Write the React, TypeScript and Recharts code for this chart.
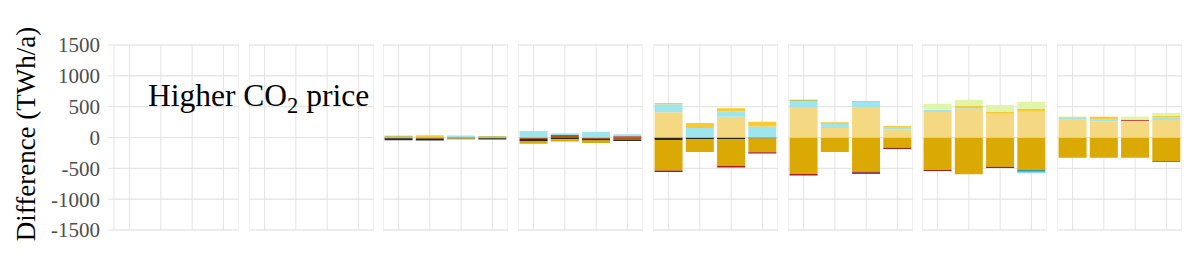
import { BarChart, Bar, XAxis, YAxis, CartesianGrid } from 'recharts'

const FONT = '"Liberation Serif", "Times New Roman", Times, serif'

// four scenarios per panel, eight panels
const scenarios = ['A', 'B', 'C', 'D']
const majorTicks = [-1500, -1000, -500, 0, 500, 1000, 1500]
const minorTicks = [-1500, -1250, -1000, -750, -500, -250, 0, 250, 500, 750, 1000, 1250, 1500]

// values in TWh/a, 4 per panel (panels 1-2 are empty)
const brown = [0, 0, 0, 0, 0, 0, 0, 0, -13, -15, 0, -12, -25, 40, -25, -35, 0, 0, 0, 0, 0, 0, 0, 0, 0, 0, 0, 0, 0, 0, 0, 0]
const black = [0, 0, 0, 0, 0, 0, 0, 0, -32, -32, -16, -20, -30, -30, -25, -20, -40, -25, -24, -16, 0, 0, 0, 0, 0, 0, 0, 0, 0, 0, 0, 0]
const gold = [0, 0, 0, 0, 0, 0, 0, 0, 0, 0, -18, 0, -45, -35, -40, 0, -496, -210, -440, -222, -591, -235, -554, -165, -527, -596, -473, -527, -327, -327, -327, -381]
const pale = [0, 0, 0, 0, 0, 0, 0, 0, 0, 0, 0, 0, 0, 0, 0, 0, 408, 0, 335, 0, 494, 154, 483, 133, 413, 462, 381, 418, 288, 262, 271, 283]
const red = [0, 0, 0, 0, 0, 0, 0, 0, 0, 0, 0, 0, 0, 0, 0, 22, -22, 0, -22, -20, -27, 0, -16, -20, -16, 0, -22, 0, 0, 0, 16, 0]
const navy = [0, 0, 0, 0, 0, 0, 0, 0, 0, 0, 0, 0, 0, 0, 0, 0, 0, 0, 0, 0, 0, 0, -16, 0, 0, 0, 0, 0, 0, 0, 0, 0]
const teal = [0, 0, 0, 0, 0, 0, 0, 0, 0, 0, 0, 0, 0, 0, 0, 0, 0, 0, 0, 0, 0, 0, 0, 0, 0, 0, 0, -22, 0, 0, 0, -16]
const blue = [0, 0, 0, 0, 0, 0, 0, 0, 0, 0, 0, 0, 0, 0, 0, 0, 0, 0, 0, 0, 0, 0, 0, 0, 0, 0, 0, -20, 0, 0, 0, 0]
const cyan = [0, 0, 0, 0, 0, 0, 0, 0, 0, 0, 33, 0, 105, 28, 95, 30, 130, 155, 86, 178, 102, 65, 92, 37, 37, 11, 16, -16, 39, 32, 0, 44]
const yellow = [0, 0, 0, 0, 0, 0, 0, 0, 13, 35, 0, 8, 0, 0, 0, 0, 22, 80, 54, 76, 0, 27, 16, 16, 0, 37, 16, 44, 10, 42, 0, 21]
const green = [0, 0, 0, 0, 0, 0, 0, 0, 0, 0, 0, 0, 0, 0, 0, 0, 0, 0, 0, 0, 0, 0, 0, 0, 97, 102, 113, 118, 0, 0, 54, 49]
const olive = [0, 0, 0, 0, 0, 0, 0, 0, 15, 0, 0, 12, 0, 0, 0, 0, 0, 0, 0, 0, 16, 0, 0, 0, 0, 0, 0, 0, 0, 0, 0, 0]

// stacking order: first one sits next to zero
const series = [
  { key: 'brown', values: brown, color: '#B4560A' },
  { key: 'black', values: black, color: '#2A2A2A' },
  { key: 'gold', values: gold, color: '#DBA903' },
  { key: 'pale', values: pale, color: '#F4D882' },
  { key: 'red', values: red, color: '#A81C1C' },
  { key: 'navy', values: navy, color: '#2C1C5C' },
  { key: 'teal', values: teal, color: '#2A9DA8' },
  { key: 'blue', values: blue, color: '#3D9AE0' },
  { key: 'cyan', values: cyan, color: '#9EE5EE' },
  { key: 'yellow', values: yellow, color: '#F9CB30' },
  { key: 'green', values: green, color: '#E0F5A8' },
  { key: 'olive', values: olive, color: '#A7B63C' },
]

const panelLefts = [0, 241, 375, 510, 645, 780, 914, 1049]

const Panel = ({ index }: { index: number }) => {
  const first = index === 0
  const rows = scenarios.map((s, i) => {
    const row: any = { name: s }
    series.forEach((k) => {
      row[k.key] = k.values[index * 4 + i]
    })
    return row
  })

  return (
    <div style={{ position: 'absolute', left: panelLefts[index], top: 0 }}>
      <BarChart
        width={first ? 231 : 125}
        height={241}
        data={rows}
        margin={{ top: 37, right: 0, bottom: 19, left: 0 }}
        stackOffset="sign"
        barCategoryGap="5%"
        style={{ fontFamily: FONT }}
      >
        <XAxis dataKey="name" hide />
        <YAxis yAxisId="minor" hide domain={[-1500, 1500]} ticks={minorTicks} allowDataOverflow />
        <YAxis
          yAxisId="major"
          hide={!first}
          width={106}
          domain={[-1500, 1500]}
          ticks={majorTicks}
          interval={0}
          allowDataOverflow
          axisLine={false}
          tickLine={{ stroke: '#E3E3E3' }}
          tickSize={6}
          tickMargin={8}
          tick={{ fill: '#4D4D4D', fontSize: 21, fontFamily: FONT }}
        />
        <CartesianGrid yAxisId="minor" vertical={false} stroke="#EFEFEF" />
        <CartesianGrid yAxisId="major" stroke="#E3E3E3" />
        {series.map((s) => (
          <Bar
            key={s.key}
            yAxisId="major"
            dataKey={s.key}
            stackId="a"
            fill={s.color}
            isAnimationActive={false}
          />
        ))}
      </BarChart>
    </div>
  )
}

export default function App() {
  return (
    <div style={{ position: 'relative', width: 1180, height: 241, fontFamily: FONT }}>
      {panelLefts.map((_, i) => (
        <Panel key={i} index={i} />
      ))}
      <svg
        width={1180}
        height={241}
        style={{ position: 'absolute', left: 0, top: 0, pointerEvents: 'none' }}
      >
        <text
          x={27}
          y={126}
          transform="rotate(-90 27 126)"
          textAnchor="middle"
          fill="#000"
          style={{ fontFamily: FONT, fontSize: 27 }}
        >
          Difference (TWh/a)
        </text>
        <text x={140} y={98} fill="#000" style={{ fontFamily: FONT, fontSize: 31.5 }}>
          Higher CO
          <tspan dy={7} style={{ fontSize: 22.5 }}>2</tspan>
          <tspan dy={-7}> price</tspan>
        </text>
      </svg>
    </div>
  )
}
